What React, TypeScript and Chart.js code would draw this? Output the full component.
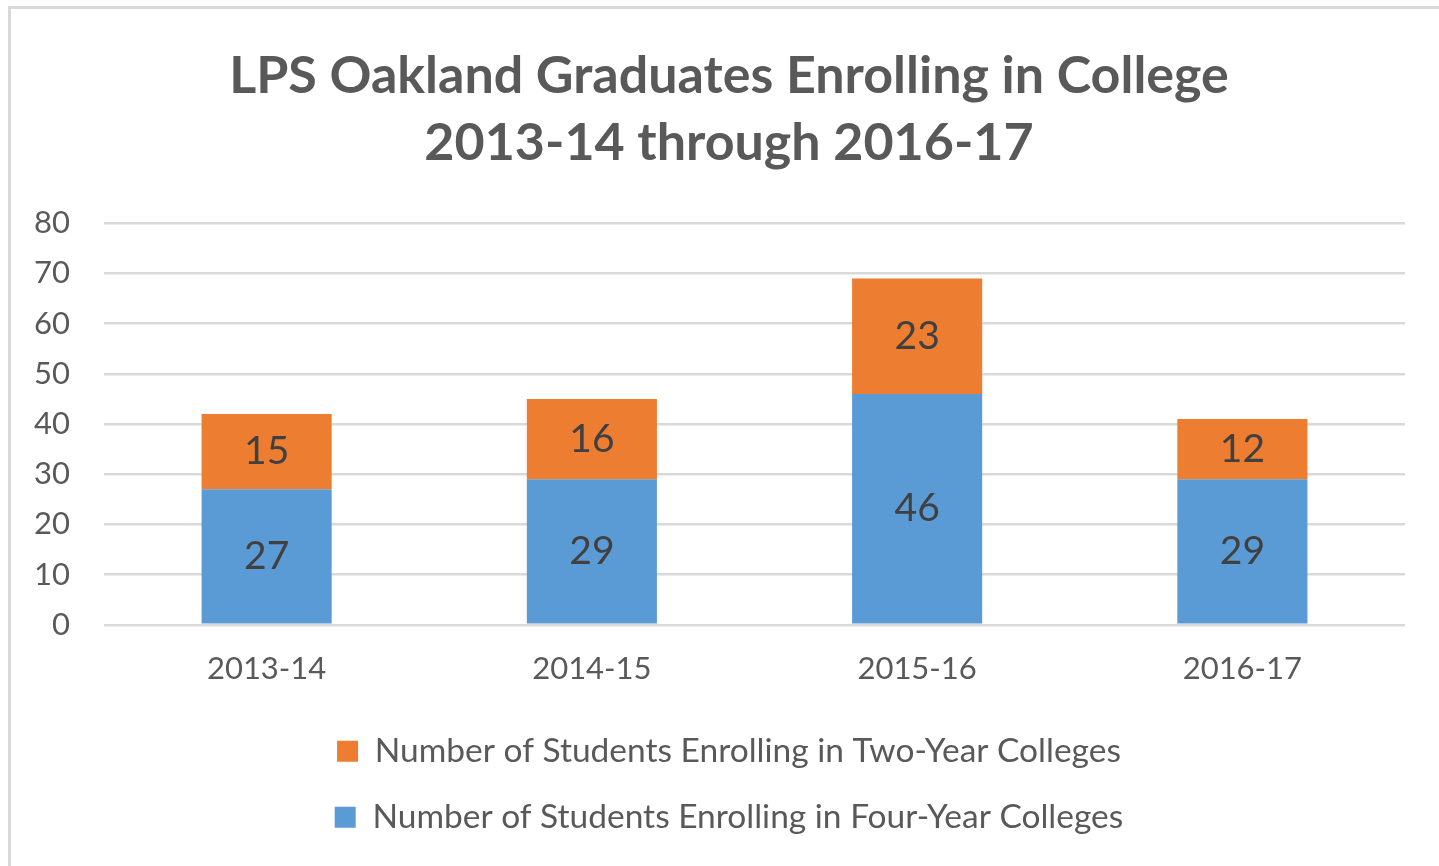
import React, { useEffect, useRef } from "react";
import { Chart, registerables } from "chart.js";

Chart.register(...registerables);

const categories = ["2013-14", "2014-15", "2015-16", "2016-17"];
const fourYear = [27, 29, 46, 29];
const twoYear = [15, 16, 23, 12];
const titleLines = ["LPS Oakland Graduates Enrolling in College", "2013-14 through 2016-17"];
const fourYearLabel = "Number of Students Enrolling in Four-Year Colleges";
const twoYearLabel = "Number of Students Enrolling in Two-Year Colleges";

const FONT = "Lato, 'Open Sans', sans-serif";

const dataLabelPlugin = {
  id: "barValueLabels",
  afterDatasetsDraw(chart: any) {
    const ctx = chart.ctx;
    ctx.save();
    ctx.font = `39px ${FONT}`;
    ctx.fillStyle = "#404040";
    ctx.textAlign = "center";
    ctx.textBaseline = "middle";
    chart.data.datasets.forEach((ds: any, di: number) => {
      const meta = chart.getDatasetMeta(di);
      meta.data.forEach((bar: any, i: number) => {
        const v = ds.data[i];
        const p = bar.getProps(["x", "y", "base"], true);
        ctx.fillText(String(v), p.x, (p.y + p.base) / 2);
      });
    });
    ctx.restore();
  },
};

// shift title and legend boxes so they are centred like the original (a bit right of canvas centre)
const centerShiftPlugin = {
  id: "centerShift",
  afterLayout(chart: any) {
    if (chart.titleBlock) chart.titleBlock.left = 53;
    if (chart.legend) chart.legend.left = 53;
  },
};

export default function App() {
  const ref = useRef<HTMLCanvasElement | null>(null);
  useEffect(() => {
    if (!ref.current) return;
    const chart = new Chart(ref.current, {
      type: "bar",
      data: {
        labels: categories,
        datasets: [
          {
            label: fourYearLabel,
            data: fourYear,
            backgroundColor: "#5B9BD5",
            barPercentage: 0.8,
            categoryPercentage: 0.5,
          },
          {
            label: twoYearLabel,
            data: twoYear,
            backgroundColor: "#ED7D31",
            barPercentage: 0.8,
            categoryPercentage: 0.5,
          },
        ],
      },
      plugins: [dataLabelPlugin, centerShiftPlugin],
      options: {
        animation: false,
        responsive: false,
        devicePixelRatio: 1,
        layout: { padding: { left: 0, right: 34, top: 0, bottom: 22 } },
        plugins: {
          title: {
            display: true,
            text: titleLines,
            color: "#595959",
            font: { family: FONT, size: 52, weight: "bold", lineHeight: 1.3 },
            padding: { top: 42, bottom: 46 },
          },
          legend: {
            display: true,
            position: "bottom",
            reverse: true,
            labels: {
              color: "#595959",
              font: { family: FONT, size: 33.5 },
              boxWidth: 21,
              boxHeight: 21,
              padding: 32.5,
            },
          },
          tooltip: { enabled: false },
        },
        scales: {
          x: {
            stacked: true,
            grid: { display: false, drawTicks: false },
            border: { display: false },
            ticks: { color: "#595959", font: { family: FONT, size: 31 }, padding: 26 },
            afterFit: (scale: any) => {
              scale.height = scale.height - 12;
            },
          },
          y: {
            stacked: true,
            min: 0,
            max: 80,
            ticks: {
              stepSize: 10,
              color: "#595959",
              font: { family: FONT, size: 31 },
              padding: 34,
            },
            grid: { color: "#d9d9d9", lineWidth: 2.5, drawTicks: false },
            border: { display: false },
            afterFit: (scale: any) => {
              scale.width = 104;
            },
          },
        },
      },
    });
    return () => chart.destroy();
  }, []);

  return (
    <div
      style={{
        position: "absolute",
        left: 0,
        top: 0,
        width: 1439,
        height: 866,
        overflow: "hidden",
        background: "#fff",
      }}
    >
      <div
        style={{
          position: "absolute",
          left: 8,
          top: 6,
          width: 1500,
          height: 900,
          borderLeft: "3px solid #d9d9d9",
          borderTop: "3px solid #d9d9d9",
        }}
      />
      <canvas
        ref={ref}
        width={1439}
        height={866}
        style={{ position: "absolute", left: 0, top: 0, width: 1439, height: 866 }}
      />
    </div>
  );
}
